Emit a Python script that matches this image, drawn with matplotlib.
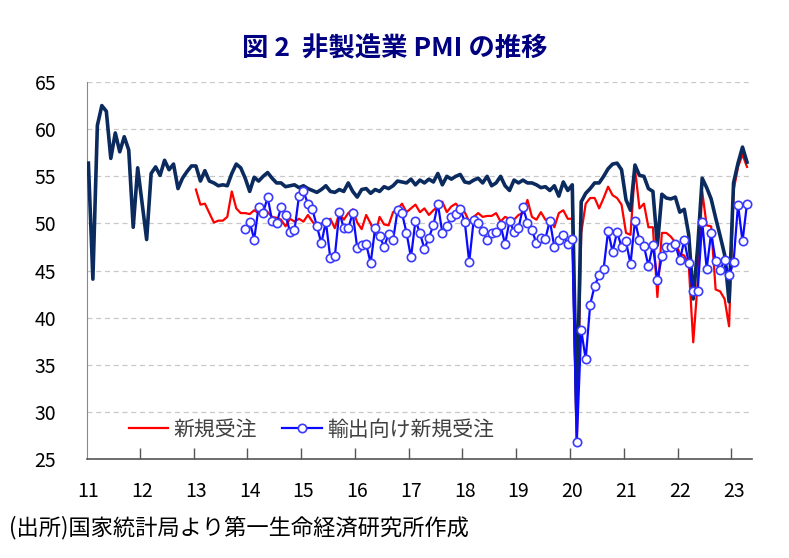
"""
図2 非製造業PMIの推移 -> out.png
"""
import matplotlib
matplotlib.use('Agg')
import matplotlib.pyplot as plt
import pandas as pd

plt.rcParams['font.family'] = ['Noto Sans CJK JP', 'DejaVu Sans']

# 非製造業PMI（2011年1月～2023年4月）
pmi = [
    56.4, 44.1, 60.4, 62.5, 61.9, 56.9, 59.6, 57.6, 59.2, 57.8, 49.6, 55.9,
    52.1, 48.3, 55.3, 56.0, 55.1, 56.7, 55.7, 56.3, 53.7, 54.8, 55.5, 56.1,
    56.1, 54.5, 55.6, 54.5, 54.3, 54.0, 54.1, 54.0, 55.3, 56.3, 55.9, 54.8,
    53.4, 54.9, 54.5, 55.0, 55.4, 54.8, 54.3, 54.3, 53.9, 54.0, 54.1, 53.8,
    54.0, 53.7, 53.5, 53.3, 53.6, 54.0, 53.4, 53.3, 53.6, 53.4, 54.3, 53.4,
    52.8, 53.6, 53.7, 53.2, 53.6, 53.4, 53.9, 53.7, 54.0, 54.5, 54.4, 54.3,
    54.7, 54.1, 54.6, 54.3, 54.7, 54.4, 55.3, 54.1, 55.0, 54.7, 55.0, 55.2,
    54.4, 54.3, 54.6, 54.8, 54.3, 55.0, 54.0, 54.3, 55.0, 54.0, 53.5, 54.6,
    54.3, 54.6, 54.3, 54.3, 54.1, 53.8, 53.9, 53.5, 54.0, 52.9, 54.4, 53.5,
    54.1, 29.6, 52.3, 53.2, 53.7, 54.3, 54.3, 55.0, 55.8, 56.3, 56.4, 55.7,
    52.5, 51.4, 56.2, 55.1, 55.0, 53.7, 53.4, 47.7, 53.1, 52.7, 52.6, 52.8,
    51.2, 51.5, 48.8, 42.0, 47.5, 54.8, 53.8, 52.6, 50.6, 48.7, 46.7, 41.7,
    54.3, 56.4, 58.1, 56.5,
]

# 新規受注（2013年1月～）
new_orders = [
    53.6, 52.0, 52.1, 51.1, 50.1, 50.3, 50.3, 50.7, 53.4, 51.6, 51.1, 51.1,
    51.0, 51.4, 51.1, 51.6, 51.2, 50.7, 50.6, 50.4, 49.7, 50.5, 50.2, 50.5,
    50.2, 50.9, 50.2, 49.6, 50.0, 50.2, 50.5, 49.5, 51.1, 50.4, 51.1, 51.5,
    50.1, 49.4, 50.9, 50.0, 48.8, 50.7, 49.9, 49.8, 51.2, 51.5, 52.1, 51.2,
    51.6, 52.0, 51.2, 51.6, 50.9, 51.4, 51.8, 52.3, 51.2, 51.8, 52.1, 51.6,
    51.2, 50.2, 50.7, 51.1, 50.7, 50.8, 50.8, 51.1, 50.2, 50.7, 50.5, 50.4,
    50.9, 51.1, 52.5, 50.7, 50.4, 51.2, 50.4, 50.5, 49.6, 51.1, 51.4, 50.5,
    50.5, 26.5, 49.0, 52.1, 52.7, 52.7, 51.6, 52.7, 53.9, 53.0, 52.7, 52.0,
    49.0, 48.8, 55.8, 51.6, 52.1, 49.6, 49.6, 42.2, 49.0, 49.0, 48.6, 48.0,
    46.8, 46.6, 45.6, 37.4, 43.8, 53.4, 49.8, 49.7, 43.0, 42.8, 42.0, 39.1,
    53.5, 56.0, 57.3, 56.0,
]

# 輸出向け新規受注（2013年12月～）
export_orders = [
    49.4,
    50.2, 48.3, 51.8, 51.1, 52.8, 50.3, 50.0, 51.7, 50.9, 49.1, 49.3, 52.9,
    53.4, 52.1, 51.5, 49.7, 47.9, 50.2, 46.3, 46.5, 51.2, 49.5, 49.5, 51.1,
    47.4, 47.7, 47.8, 45.8, 49.5, 48.7, 47.5, 48.9, 48.2, 51.4, 51.1, 49.0,
    46.4, 50.3, 49.0, 47.3, 48.5, 49.8, 52.1, 49.0, 49.7, 50.7, 51.0, 51.5,
    50.2, 45.9, 50.4, 50.1, 49.2, 48.3, 49.0, 49.1, 49.8, 47.8, 50.3, 49.1,
    49.5, 51.7, 50.1, 49.3, 47.9, 48.5, 48.4, 50.3, 47.5, 48.2, 48.8, 47.8,
    48.4, 26.8, 38.7, 35.6, 41.4, 43.4, 44.5, 45.2, 49.2, 47.0, 49.1, 47.5,
    48.1, 45.7, 50.3, 48.2, 47.6, 45.5, 47.7, 44.0, 46.5, 47.5, 47.5, 47.8,
    46.1, 48.2, 45.8, 42.8, 42.8, 50.2, 45.2, 49.0, 46.0, 45.1, 46.1, 44.5,
    45.9, 52.0, 48.1, 52.1,
]

year_labels = ['11', '12', '13', '14', '15', '16', '17', '18', '19', '20', '21', '22', '23']


def month_axis(start, n):
    d = pd.date_range(start, periods=n, freq='MS')
    return d.year + (d.month - 1) / 12


x_pmi = month_axis('2011-01', len(pmi))
x_new = month_axis('2013-01', len(new_orders))
x_exp = month_axis('2013-12', len(export_orders))

fig = plt.figure(figsize=(7.89, 5.58), dpi=100)
ax = fig.add_axes([0.110, 0.177, 0.843, 0.676])

ax.plot(x_new, new_orders, color='#ff0000', lw=1.6, label='新規受注', zorder=3)
ax.plot(x_pmi, pmi, color='#0b2a5e', lw=2.6, zorder=4)
ax.plot(x_exp, export_orders, color='#0a0aff', lw=1.6, marker='o', ms=6,
        mfc='white', mec='#3a3aff', mew=1.2, label='輸出向け新規受注', zorder=5)

ax.set_ylim(25, 65)
ax.set_xlim(2011 - 0.03, 2023 + 4.1 / 12)
ax.set_yticks(range(25, 70, 5))
ax.tick_params(axis='y', length=0, pad=22, labelsize=14)

# 年ラベルは1月の位置、目盛り線は年の区切り
yrs = [2011 + k for k in range(len(year_labels))]
ax.set_xticks(yrs)
ax.set_xticklabels(year_labels)
ax.set_xticks([y - 0.5 / 12 for y in yrs[1:]], minor=True)
ax.tick_params(axis='x', which='major', length=0, pad=16, labelsize=14)
ax.tick_params(axis='x', which='minor', direction='in', length=8, width=1, color='#555555')

ax.grid(axis='y', color='#c8c8c8', linestyle=(0, (4, 3)), lw=0.9)
ax.set_axisbelow(True)
for s in ['top', 'right']:
    ax.spines[s].set_visible(False)
ax.spines['left'].set_color('#888888')
ax.spines['bottom'].set_color('#555555')
ax.spines['bottom'].set_linewidth(1.2)

ax.legend(loc='lower left', bbox_to_anchor=(0.035, 0.0), ncol=2, frameon=False,
          fontsize=15, handlelength=1.9, columnspacing=1.2, handletextpad=0.25,
          labelcolor='#404040')

fig.text(0.5, 0.912, '図 2  非製造業 PMI の推移', ha='center', va='center',
         fontsize=19, fontweight='bold', color='#000080')
fig.text(0.012, 0.055, '(出所)国家統計局より第一生命経済研究所作成', ha='left',
         va='center', fontsize=16)

plt.savefig('out.png', dpi=100, facecolor='white')
plt.close()
